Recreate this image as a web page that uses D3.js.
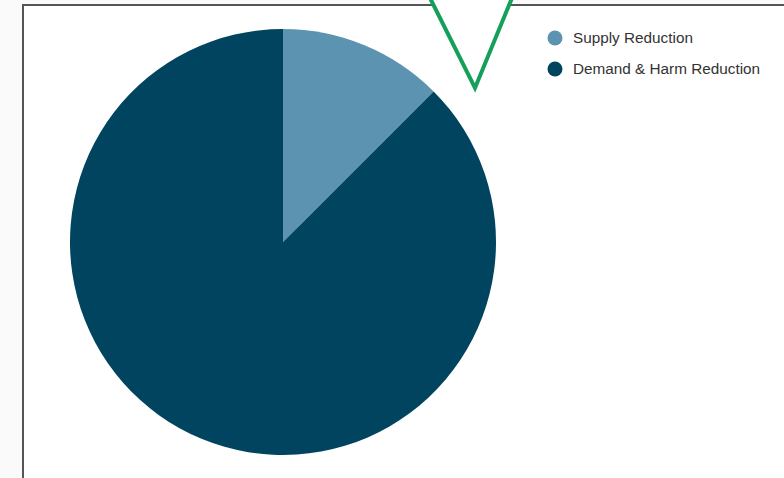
<html>
<head>
<script src="https://cdn.jsdelivr.net/npm/d3@7"></script>
<style>
  body { margin: 0; background: #fafafa; }
  svg { display: block; }
</style>
</head>
<body>
<script>
var categories = ['Supply Reduction', 'Demand & Harm Reduction'];
var values = [12.5, 87.5];
var colors = ['#5b93b0', '#00445f'];

var width = 784, height = 478;
var svg = d3.select('body').append('svg')
    .attr('width', width)
    .attr('height', height);

// panel
svg.append('rect')
    .attr('x', 23).attr('y', 5)
    .attr('width', width - 23 + 5).attr('height', height)
    .attr('fill', '#ffffff')
    .attr('stroke', '#555555')
    .attr('stroke-width', 2);

var data = categories.map(function (c, i) { return { name: c, value: values[i] }; });

var pie = d3.pie().sort(null).value(function (d) { return d.value; });
var arc = d3.arc().innerRadius(0).outerRadius(213);

var g = svg.append('g').attr('transform', 'translate(283,242)');
g.selectAll('path')
    .data(pie(data))
    .enter()
    .append('path')
    .attr('d', arc)
    .attr('fill', function (d, i) { return colors[i]; });

// green marker
svg.append('path')
    .attr('d', 'M430,-2 L475,88 L512,-2')
    .attr('fill', '#ffffff')
    .attr('stroke', '#14a05a')
    .attr('stroke-width', 4)
    .attr('stroke-linejoin', 'miter');

var legend = svg.append('g').attr('transform', 'translate(555,38)');
var items = legend.selectAll('g')
    .data(data)
    .enter()
    .append('g')
    .attr('transform', function (d, i) { return 'translate(0,' + (i * 31) + ')'; });
items.append('circle')
    .attr('r', 7.5)
    .attr('fill', function (d, i) { return colors[i]; });
items.append('text')
    .attr('x', 18)
    .attr('y', 5)
    .attr('font-family', '"Liberation Sans", Arial, sans-serif')
    .attr('font-size', 15.3)
    .attr('fill', '#333333')
    .text(function (d) { return d.name; });
</script>
</body>
</html>
